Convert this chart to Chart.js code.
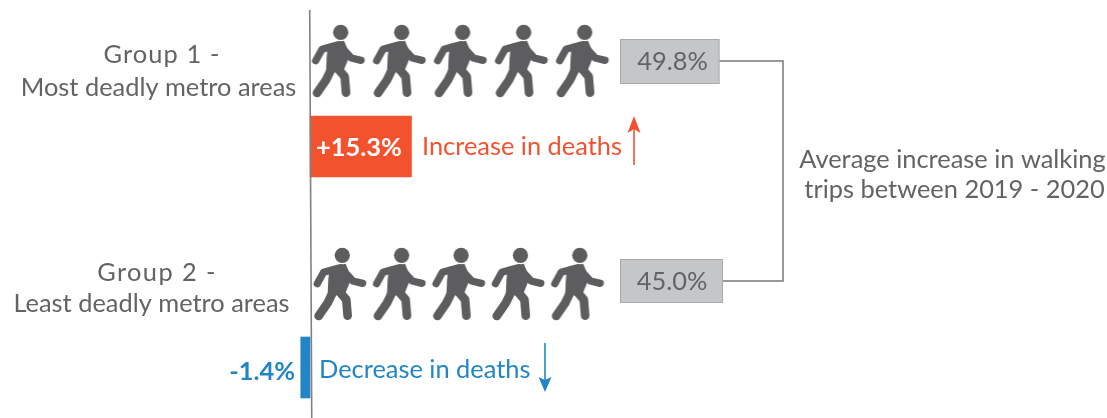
<!DOCTYPE html>
<html><head><meta charset="utf-8">
<style>html,body{margin:0;padding:0;background:#fff;overflow:hidden}canvas{display:block}</style>
<script src="https://cdn.jsdelivr.net/npm/chart.js@4"></script></head>
<body><canvas id="c" width="1107" height="418"></canvas>
<script>
const groupRows = [2, 1];
const peopleRows = [2.387, 1.378];
const deathChange = [15.3, -1.4];
const walkingIncrease = [49.8, 45.0];
const peopleSlots = [1, 2, 3, 4, 5];
const groupLabels = [["Group 1 -", "Most deadly metro areas"], ["Group 2 -", "Least deadly metro areas"]];
const changeLabels = ["Increase in deaths", "Decrease in deaths"];
const averageLabel = ["Average increase in walking", "trips between 2019 - 2020"];

const GREY = "#626365", ORANGE = "#f2532e", BLUE = "#2285c8";
const FONT = "Lato, sans-serif";
const SIZE = 25.4;

function person() {
  const cv = document.createElement("canvas");
  cv.width = 60; cv.height = 80;
  const g = cv.getContext("2d");
  g.translate(30, 40); g.scale(1/3, 1/3); g.translate(-115, -183);
  g.fillStyle = g.strokeStyle = "#5d5d5f";
  g.lineCap = g.lineJoin = "round";
  g.beginPath(); g.arc(122, 97, 23, 0, 7); g.fill();
  const line = (w, pts) => { g.lineWidth = w; g.beginPath(); pts.forEach((p,i)=> i ? g.lineTo(p[0],p[1]) : g.moveTo(p[0],p[1])); g.stroke(); };
  line(22, [[118,135],[154,174],[183,181]]);
  line(22, [[112,135],[66,148],[47,182]]);
  line(26, [[100,195],[78,240],[51,279]]);
  line(26, [[104,195],[134,230],[138,278]]);
  g.beginPath(); g.moveTo(84,132); g.lineTo(132,122); g.lineTo(150,165); g.lineTo(128,218); g.lineTo(78,215); g.lineTo(80,170); g.closePath(); g.fill();
  return cv;
}
const icon = person();

const overlay = {
  id: "overlay",
  afterDatasetsDraw(chart) {
    const g = chart.ctx, x0 = chart.scales.x.getPixelForValue(0), y = chart.scales.y;
    const text = (s, x, py, color, size, align, weight, spacing) => {
      g.font = (weight || 400) + " " + size + "px " + FONT;
      g.letterSpacing = (spacing || 0) + "px";
      g.fillStyle = color; g.textAlign = align || "left"; g.textBaseline = "middle";
      g.fillText(s, x, py);
      g.letterSpacing = "0px";
    };
    const seg = (pts, color, w) => {
      g.strokeStyle = color; g.lineWidth = w; g.beginPath();
      pts.forEach((p,i)=> i ? g.lineTo(p[0],p[1]) : g.moveTo(p[0],p[1])); g.stroke();
    };
    g.save();
    seg([[x0-0.3,10],[x0+1.7,418]], "#808183", 1.6);
    text(groupLabels[0][0], 162, 55, GREY, SIZE, "center", 400, 1.1);
    text(groupLabels[0][1], 158.5, 88, GREY, SIZE, "center");
    text(groupLabels[1][0], 157, 273, GREY, SIZE, "center", 400, 1.4);
    text(groupLabels[1][1], 151.5, 304, GREY, SIZE, "center");
    const r1 = y.getPixelForValue(groupRows[0]), r2 = y.getPixelForValue(groupRows[1]);
    text("+" + deathChange[0].toFixed(1) + "%", x0 + 6, r1 + 1, "#fff", SIZE, "left", 700);
    text(deathChange[1].toFixed(1) + "%", x0 - 15, r2 + 4, BLUE, SIZE, "right", 700);
    text(changeLabels[0], 422, r1, ORANGE, SIZE);
    text(changeLabels[1], 319, r2 + 2, BLUE, SIZE);
    seg([[634,165],[634,122]], ORANGE, 1.6);
    g.fillStyle = ORANGE; g.beginPath(); g.moveTo(634,116); g.lineTo(640.5,133); g.lineTo(634,129); g.lineTo(627.5,133); g.closePath(); g.fill();
    seg([[545,343],[545,385]], BLUE, 1.6);
    g.fillStyle = BLUE; g.beginPath(); g.moveTo(545,392); g.lineTo(551.5,377); g.lineTo(545,380); g.lineTo(538.5,377); g.closePath(); g.fill();
    seg([[719,61],[783,61],[783,281],[723,281]], "#77787a", 1.5);
    [[620,39,99.5,45],[620,259,103,44]].forEach((b,i)=>{
      g.fillStyle = "#c5c6c8"; g.strokeStyle = "#a9aaac"; g.lineWidth = 1;
      g.fillRect(b[0],b[1],b[2],b[3]); g.strokeRect(b[0]+.5,b[1]+.5,b[2]-1,b[3]-1);
      text(walkingIncrease[i].toFixed(1) + "%", i ? 672 : 672.5, i ? 282 : 62, GREY, SIZE, "center");
    });
    text(averageLabel[0], 952.5, 160, GREY, SIZE, "center");
    text(averageLabel[1], 954.5, 190, GREY, SIZE, "center");
    g.restore();
  }
};

const hidden = (min, max, extra) => Object.assign({ type: "linear", display: false, bounds: "data", offset: false, beginAtZero: false, grace: 0, min, max }, extra);

new Chart(document.getElementById("c"), {
  type: "bar",
  data: {
    datasets: [
      { type: "bar", indexAxis: "y", xAxisID: "x", yAxisID: "y",
        data: groupRows.map((r,i)=>({x: deathChange[i], y: r})),
        backgroundColor: [ORANGE, BLUE], barThickness: 61, grouped: false },
      { type: "scatter", xAxisID: "p1", yAxisID: "y", showLine: false,
        data: peopleSlots.map(s=>({x: s, y: peopleRows[0]})),
        pointStyle: icon, pointRadius: 30 },
      { type: "scatter", xAxisID: "p2", yAxisID: "y", showLine: false,
        data: peopleSlots.map(s=>({x: s, y: peopleRows[1]})),
        pointStyle: icon, pointRadius: 30 }
    ]
  },
  options: {
    responsive: false, animation: false,
    layout: { padding: 0, autoPadding: false },
    plugins: { legend: { display: false }, tooltip: { enabled: false } },
    scales: {
      x: hidden(-46.76, 120.2),
      p1: hidden(-4.546, 13.601, { axis: "x" }),
      p2: hidden(-4.722, 13.914, { axis: "x" }),
      y: hidden(0.7715, 2.663)
    }
  },
  plugins: [overlay]
});
</script></body></html>
